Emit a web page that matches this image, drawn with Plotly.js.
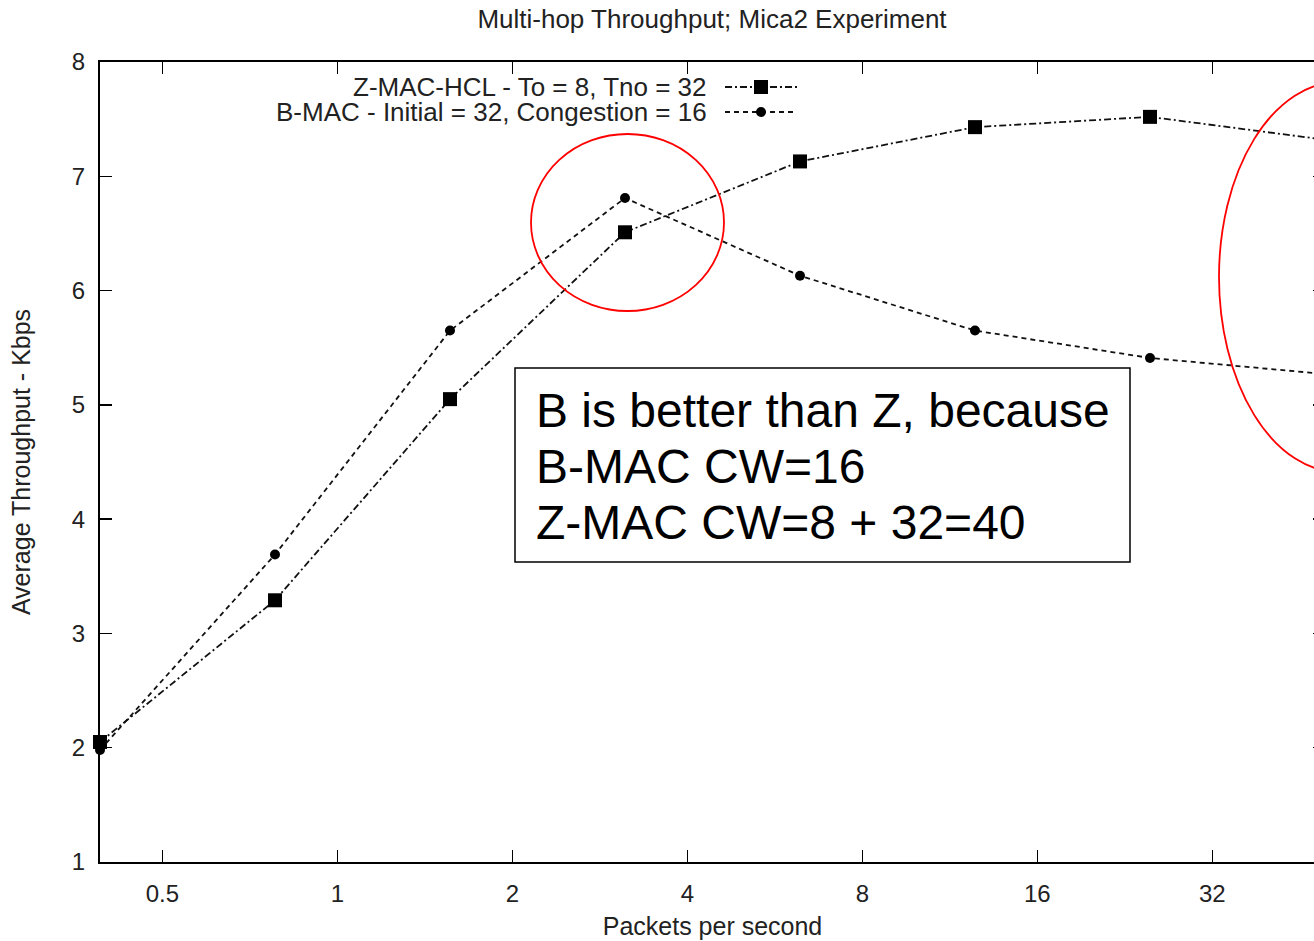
<!DOCTYPE html>
<html><head><meta charset="utf-8">
<script src="https://cdn.plot.ly/plotly-3.0.1.min.js"></script>
<style>html,body{margin:0;padding:0;overflow:hidden;background:#fff}#chart{width:1330px;height:941px}</style>
</head><body><div id="chart"></div>
<script>
// ---- data ----
const packetsPerSecond = [0.390625, 0.78125, 1.5625, 3.125, 6.25, 12.5, 25, 50];
const zmacThroughput   = [2.05, 3.29, 5.05, 6.51, 7.13, 7.43, 7.52, 7.32];
const bmacThroughput   = [1.98, 3.69, 5.65, 6.81, 6.13, 5.65, 5.41, 5.27];
const xTickVals = [0.5, 1, 2, 4, 8, 16, 32];
const xTickText = ['0.5', '1', '2', '4', '8', '16', '32'];
const yTickVals = [1, 2, 3, 4, 5, 6, 7, 8];
const seriesNames = ['Z-MAC-HCL - To = 8, Tno = 32', 'B-MAC - Initial = 32, Congestion = 16'];
const noteLines = ['B is better than Z, because', 'B-MAC CW=16', 'Z-MAC CW=8 + 32=40'];
const chartTitle = 'Multi-hop Throughput; Mica2 Experiment';
const xTitle = 'Packets per second';
const yTitle = 'Average Throughput - Kbps';

// ---- layout helpers (pixel -> paper) ----
const W = 1330, H = 941, L = 100, R = 5, T = 62, B = 79;
const PW = W - L - R, PH = H - T - B;
const px = x => (x - L) / PW;
const py = y => (H - B - y) / PH;
const FONT = 'Liberation Sans, Arial, sans-serif';
const TXT = '#222';

const zDash = '7px,3px,2px,3px';
const bDash = '5px,4px';

const traces = [
  {x: packetsPerSecond, y: zmacThroughput, name: seriesNames[0], mode: 'lines+markers',
   line: {color: '#111', width: 1.8, dash: zDash},
   marker: {symbol: 'square', size: 14, color: '#000'}, cliponaxis: false},
  {x: packetsPerSecond, y: bmacThroughput, name: seriesNames[1], mode: 'lines+markers',
   line: {color: '#111', width: 1.8, dash: bDash},
   marker: {symbol: 'circle', size: 10, color: '#000'}, cliponaxis: false}
];

const shapes = [
  // legend samples
  {type: 'line', xref: 'paper', yref: 'paper', x0: px(725), x1: px(797), y0: py(87), y1: py(87),
   line: {color: '#111', width: 1.8, dash: zDash}},
  {type: 'rect', xref: 'paper', yref: 'paper', x0: px(754), x1: px(768), y0: py(94), y1: py(80),
   fillcolor: '#000', line: {width: 0}},
  {type: 'line', xref: 'paper', yref: 'paper', x0: px(725), x1: px(797), y0: py(112), y1: py(112),
   line: {color: '#111', width: 1.8, dash: bDash}},
  {type: 'circle', xref: 'paper', yref: 'paper', x0: px(756), x1: px(766), y0: py(117), y1: py(107),
   fillcolor: '#000', line: {width: 0}},
  // red highlight ellipses
  {type: 'circle', xref: 'paper', yref: 'paper', x0: px(531), x1: px(724), y0: py(311), y1: py(134),
   line: {color: '#ff0000', width: 1.8}},
  {type: 'circle', xref: 'paper', yref: 'paper', x0: px(1219), x1: px(1459), y0: py(472), y1: py(82),
   line: {color: '#ff0000', width: 1.8}},
  // note box
  {type: 'rect', xref: 'paper', yref: 'paper', x0: px(515), x1: px(1130), y0: py(562), y1: py(368),
   fillcolor: '#fff', line: {color: '#000', width: 1.5}}
];

const annotations = [
  {text: seriesNames[0], xref: 'paper', yref: 'paper', x: px(709), y: py(87), xanchor: 'right', yanchor: 'middle',
   showarrow: false, font: {family: FONT, size: 26, color: TXT}},
  {text: seriesNames[1], xref: 'paper', yref: 'paper', x: px(709), y: py(112), xanchor: 'right', yanchor: 'middle',
   showarrow: false, font: {family: FONT, size: 26, color: TXT}}
];
const noteY = [410, 466, 522];
noteLines.forEach((t, i) => annotations.push({
  text: t, xref: 'paper', yref: 'paper', x: px(534), y: py(noteY[i]), xanchor: 'left', yanchor: 'middle',
  showarrow: false, font: {family: FONT, size: 48, color: '#000'}
}));

const axisCommon = {
  showline: true, linecolor: '#000', linewidth: 2, mirror: 'ticks',
  ticks: 'inside', ticklen: 12, tickwidth: 1.5, tickcolor: '#000',
  showgrid: false, zeroline: false, automargin: false,
  tickfont: {family: FONT, size: 24, color: TXT}
};

const layout = {
  width: W, height: H,
  margin: {l: L, r: R, t: T, b: B},
  paper_bgcolor: '#fff', plot_bgcolor: '#fff',
  showlegend: false,
  title: {text: chartTitle, x: px(712), xref: 'paper', xanchor: 'center',
          y: 1 - 19 / H, yref: 'container', yanchor: 'middle',
          font: {family: FONT, size: 26, color: TXT}},
  xaxis: Object.assign({}, axisCommon, {
    type: 'log', range: [Math.log10(packetsPerSecond[0]), Math.log10(packetsPerSecond[packetsPerSecond.length - 1])],
    tickvals: xTickVals, ticktext: xTickText, ticklabelstandoff: 9,
    title: {text: xTitle, standoff: 12, font: {family: FONT, size: 25, color: TXT}}
  }),
  yaxis: Object.assign({}, axisCommon, {
    range: [1, 8], tickvals: yTickVals, ticklabelstandoff: 8,
    title: {text: yTitle, standoff: 34, font: {family: FONT, size: 25, color: TXT}}
  }),
  shapes: shapes, annotations: annotations
};

Plotly.newPlot('chart', traces, layout, {staticPlot: true, displayModeBar: false});
</script>
</body></html>
